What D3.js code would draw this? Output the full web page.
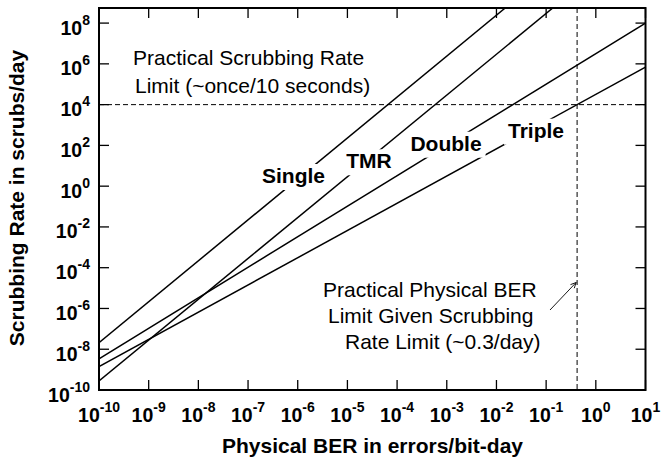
<!DOCTYPE html>
<html>
<head>
<meta charset="utf-8">
<title>Scrubbing rate vs physical BER</title>
<style>
  body { margin: 0; background: #fff; }
  svg text { font-family: "Liberation Sans", Arial, sans-serif; fill: #000; }
  .tick-label { font-weight: bold; font-size: 19.5px; }
  .axis-title { font-weight: bold; font-size: 21px; }
  .curve { fill: none; stroke: #000; stroke-width: 1.5; }
  .series-label { font-weight: bold; font-size: 21px; }
  .note { font-size: 21px; }
  .limit { fill: none; stroke: #000; stroke-width: 1; stroke-dasharray: 5,3; }
</style>
</head>
<body>
<svg width="662" height="461"></svg>
<script src="https://cdn.jsdelivr.net/npm/d3@7"></script>
<script>
  // End points [BER in errors/bit-day, scrubbing rate in scrubs/day] of each log-log line
  var seriesNames = ["Single", "TMR", "Double", "Triple"];
  var singleLine = [[1e-10, 2.1e-8], [1.5e-2, 5.5e8]];
  var tmrLine = [[1e-10, 2.8e-10], [0.136, 5.5e8]];
  var doubleLine = [[1e-10, 3.4e-9], [10, 1e8]];
  var tripleLine = [[1e-10, 1.4e-9], [10, 6.9e5]];
  var scrubLimit = 1e4;   // ~once / 10 seconds
  var berLimit = 0.42;    // where Triple reaches the scrub limit
  var xTickExps = [-10, -9, -8, -7, -6, -5, -4, -3, -2, -1, 0, 1];
  var yTickExps = [-10, -8, -6, -4, -2, 0, 2, 4, 6, 8];

  var svg = d3.select("svg");
  var plotLeft = 99, plotRight = 645.5, plotTop = 8, plotBottom = 390;

  var x = d3.scaleLog().domain([1e-10, 10]).range([plotLeft, plotRight]);
  var y = d3.scaleLog().domain([1e-10, 5.5e8]).range([plotBottom, plotTop]);

  svg.append("clipPath").attr("id", "plot")
    .append("rect").attr("x", plotLeft).attr("y", plotTop)
    .attr("width", plotRight - plotLeft).attr("height", plotBottom - plotTop);

  // Limit lines.
  svg.append("line").attr("class", "limit")
    .attr("x1", plotLeft).attr("x2", plotRight)
    .attr("y1", y(scrubLimit)).attr("y2", y(scrubLimit));
  svg.append("line").attr("class", "limit")
    .attr("x1", x(berLimit)).attr("x2", x(berLimit))
    .attr("y1", plotTop).attr("y2", plotBottom);

  // Series lines.
  var line = d3.line().x(d => x(d[0])).y(d => y(d[1]));
  var allLines = [singleLine, tmrLine, doubleLine, tripleLine];
  svg.append("g").attr("clip-path", "url(#plot)")
    .selectAll("path").data(allLines).enter()
    .append("path").attr("class", "curve").attr("d", line);

  // Series labels sit on a white patch that cuts the line.
  var labelSpots = [[293.5, 183], [369, 168.3], [446, 150.7], [536, 137.7]];
  seriesNames.forEach(function(name, i) {
    var g = svg.append("g");
    var bg = g.append("rect").attr("fill", "#fff");
    var t = g.append("text").attr("class", "series-label")
      .attr("x", labelSpots[i][0]).attr("y", labelSpots[i][1])
      .attr("text-anchor", "middle").text(name);
    var b = t.node().getBBox();
    bg.attr("x", b.x - 4).attr("y", b.y).attr("width", b.width + 8).attr("height", b.height + 3);
  });

  // Frame and ticks.
  svg.append("rect").attr("x", plotLeft).attr("y", plotTop)
    .attr("width", plotRight - plotLeft).attr("height", plotBottom - plotTop)
    .attr("fill", "none").attr("stroke", "#000").attr("stroke-width", 2);

  var ticks = svg.append("g").attr("stroke", "#000").attr("stroke-width", 1.3);
  xTickExps.forEach(function(e) {
    var px = x(Math.pow(10, e));
    ticks.append("line").attr("x1", px).attr("x2", px).attr("y1", plotBottom).attr("y2", plotBottom - 10);
    ticks.append("line").attr("x1", px).attr("x2", px).attr("y1", plotTop).attr("y2", plotTop + 10);
  });
  yTickExps.forEach(function(e) {
    var py = y(Math.pow(10, e));
    ticks.append("line").attr("x1", plotLeft).attr("x2", plotLeft + 10).attr("y1", py).attr("y2", py);
    ticks.append("line").attr("x1", plotRight).attr("x2", plotRight - 10).attr("y1", py).attr("y2", py);
  });

  function powerLabel(sel, e) {
    sel.append("tspan").text("10");
    sel.append("tspan").attr("dy", -10).attr("font-size", "14px").text(e);
  }
  xTickExps.forEach(function(e) {
    svg.append("text").attr("class", "tick-label")
      .attr("x", x(Math.pow(10, e))).attr("y", 421.5)
      .attr("text-anchor", "middle")
      .call(powerLabel, e);
  });
  yTickExps.forEach(function(e) {
    svg.append("text").attr("class", "tick-label")
      .attr("x", 90).attr("y", y(Math.pow(10, e)) + 11.5)
      .attr("text-anchor", "end")
      .call(powerLabel, e);
  });

  // Axis titles.
  svg.append("text").attr("class", "axis-title")
    .attr("x", 372.5).attr("y", 453).attr("text-anchor", "middle")
    .text("Physical BER in errors/bit-day");
  svg.append("text").attr("class", "axis-title")
    .attr("transform", "translate(24,198) rotate(-90)").attr("text-anchor", "middle")
    .text("Scrubbing Rate in scrubs/day");

  // Notes.
  var notes = [
    ["Practical Scrubbing Rate", 133, 65],
    ["Limit (~once/10 seconds)", 135, 93],
    ["Practical Physical BER", 323, 296.7],
    ["Limit Given Scrubbing", 328, 323.3],
    ["Rate Limit (~0.3/day)", 345, 349.3]
  ];
  notes.forEach(function(n) {
    svg.append("text").attr("class", "note").attr("x", n[1]).attr("y", n[2]).text(n[0]);
  });

  // Arrow to the BER limit line.
  var tipX = x(berLimit) - 1, tipY = 282.5, tailX = 550, tailY = 310;
  var ang = Math.atan2(tipY - tailY, tipX - tailX);
  var arrow = svg.append("g").attr("stroke", "#000").attr("stroke-width", 0.9).attr("fill", "none");
  arrow.append("line").attr("x1", tailX).attr("y1", tailY).attr("x2", tipX).attr("y2", tipY);
  [0.45, -0.45].forEach(function(da) {
    arrow.append("line").attr("x1", tipX).attr("y1", tipY)
      .attr("x2", tipX - 6 * Math.cos(ang + da)).attr("y2", tipY - 6 * Math.sin(ang + da));
  });
</script>
</body>
</html>
